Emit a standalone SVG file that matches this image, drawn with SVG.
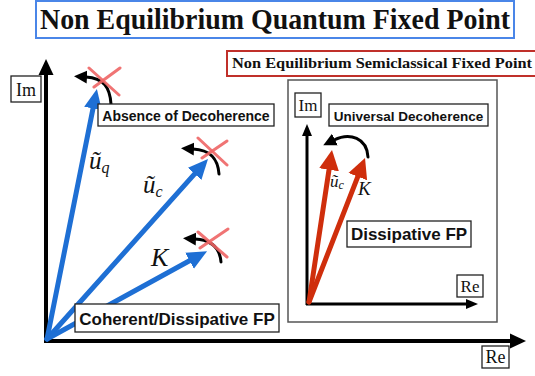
<svg xmlns="http://www.w3.org/2000/svg" width="535" height="376" viewBox="0 0 535 376">
<style>
  .lbl { font-family: "Liberation Sans", Arial, sans-serif; font-weight: bold; fill: #111; text-anchor: middle; }
  .ser { font-family: "Liberation Serif", "Times New Roman", serif; fill: #111; }
  .math { font-family: "Liberation Serif", "Times New Roman", serif; font-style: italic; fill: #111; }
  .box { fill: #fff; stroke: #222; stroke-width: 1.3; }
  .axis { stroke: #000; fill: none; }
  .blue { stroke: #1e6fd4; stroke-width: 5; fill: none; stroke-linecap: round; }
  .red { stroke: #cf2e0c; stroke-width: 5; fill: none; stroke-linecap: round; }
  .curl { stroke: #000; stroke-width: 3; fill: none; stroke-linecap: round; }
  .xmark { stroke: #ef6565; stroke-width: 3; stroke-linecap: round; opacity: 0.9; }
</style>
<defs>
  <marker id="ahBlue" markerUnits="userSpaceOnUse" viewBox="0 -10 20 20" markerWidth="20" markerHeight="20" refX="2" refY="0" orient="auto">
    <path d="M0,-9 L20,0 L0,9 z" fill="#1e6fd4"/>
  </marker>
  <marker id="ahRed" markerUnits="userSpaceOnUse" viewBox="0 -11 20 22" markerWidth="20" markerHeight="22" refX="2" refY="0" orient="auto">
    <path d="M0,-10 L20,0 L0,10 z" fill="#cf2e0c"/>
  </marker>
  <marker id="ahBlk" markerUnits="userSpaceOnUse" viewBox="0 -7 13 14" markerWidth="13" markerHeight="14" refX="1" refY="0" orient="auto">
    <path d="M0,-6.5 L13,0 L0,6.5 z" fill="#000"/>
  </marker>
  <marker id="ahAxis" markerUnits="userSpaceOnUse" viewBox="0 -8 16 16" markerWidth="16" markerHeight="16" refX="1" refY="0" orient="auto">
    <path d="M0,-7.5 L16,0 L0,7.5 z" fill="#000"/>
  </marker>
  <marker id="ahAxisS" markerUnits="userSpaceOnUse" viewBox="0 -6 12 12" markerWidth="12" markerHeight="12" refX="1" refY="0" orient="auto">
    <path d="M0,-5 L12,0 L0,5 z" fill="#000"/>
  </marker>
</defs>

<!-- Titles -->
<g id="title-quantum">
  <rect x="36" y="1" width="478" height="37" fill="#fff" stroke="#4a86e8" stroke-width="2"/>
  <text class="ser" x="275" y="29" font-size="29" font-weight="bold" text-anchor="middle" textLength="470" lengthAdjust="spacingAndGlyphs">Non Equilibrium Quantum Fixed Point</text>
</g>
<g id="title-semiclassical">
  <rect x="227" y="51" width="320" height="25" fill="#fff" stroke="#c0302a" stroke-width="2"/>
  <text class="ser" x="232" y="68" font-size="14.5" font-weight="bold" textLength="300" lengthAdjust="spacingAndGlyphs">Non Equilibrium Semiclassical Fixed Point</text>
</g>

<!-- Right panel frame -->
<g id="panel-semiclassical">
  <rect x="288" y="80" width="209" height="242" fill="#fff" stroke="#555" stroke-width="1.5"/>
</g>

<!-- Connectors -->
<g id="connectors">
  <!-- main axes -->
  <line class="axis" x1="46" y1="343" x2="46" y2="74" stroke-width="4" marker-end="url(#ahAxis)"/>
  <line class="axis" x1="44" y1="341" x2="511" y2="341" stroke-width="4" marker-end="url(#ahAxis)"/>
  <!-- inner axes -->
  <line class="axis" x1="307" y1="305" x2="307" y2="135" stroke-width="3" marker-end="url(#ahAxisS)"/>
  <line class="axis" x1="306" y1="304" x2="467" y2="304" stroke-width="3" marker-end="url(#ahAxisS)"/>

  <!-- blue vectors -->
  <line class="blue" x1="47" y1="339" x2="93.4" y2="106.6" marker-end="url(#ahBlue)"/>
  <line class="blue" x1="47" y1="339" x2="196" y2="172.4" marker-end="url(#ahBlue)"/>
  <line class="blue" x1="47" y1="339" x2="191.3" y2="259.8" marker-end="url(#ahBlue)"/>

  <!-- red vectors -->
  <line class="red" x1="309" y1="302" x2="329.3" y2="167.8" marker-end="url(#ahRed)"/>
  <line class="red" x1="309" y1="302" x2="358.5" y2="174.8" marker-end="url(#ahRed)"/>

  <!-- black rotation arrows -->
  <path class="curl" d="M111,104 C110,88 104,78 86,77" marker-end="url(#ahBlk)"/>
  <path class="curl" d="M219,174 C218,160 212,150 193,149" marker-end="url(#ahBlk)"/>
  <path class="curl" d="M221,262 C220,250 214,240 195,239" marker-end="url(#ahBlk)"/>
  <path class="curl" d="M368,157 C367,138 350,132 334,140" marker-end="url(#ahBlk)"/>

  <!-- red crosses -->
  <line class="xmark" x1="89" y1="68" x2="119" y2="95"/>
  <line class="xmark" x1="120" y1="68" x2="94" y2="87"/>
  <line class="xmark" x1="198" y1="138" x2="227" y2="165"/>
  <line class="xmark" x1="227" y1="141" x2="202" y2="158"/>
  <line class="xmark" x1="198" y1="232" x2="227" y2="257"/>
  <line class="xmark" x1="228" y1="229" x2="200" y2="248"/>
</g>

<!-- Axis labels -->
<g id="label-im-main">
  <rect class="box" x="11" y="76" width="30" height="26"/>
  <text class="ser" x="26" y="96" font-size="18" text-anchor="middle">Im</text>
</g>
<g id="label-re-main">
  <rect class="box" x="482" y="346" width="27" height="22"/>
  <text class="ser" x="495.5" y="363" font-size="18" text-anchor="middle">Re</text>
</g>
<g id="label-im-inner">
  <rect class="box" x="295" y="93" width="26" height="24"/>
  <text class="ser" x="308" y="111" font-size="17" text-anchor="middle">Im</text>
</g>
<g id="label-re-inner">
  <rect class="box" x="457" y="275" width="26" height="22"/>
  <text class="ser" x="470" y="292" font-size="17" text-anchor="middle">Re</text>
</g>

<!-- Text boxes -->
<g id="absence-of-decoherence">
  <rect class="box" x="98" y="104" width="176" height="22"/>
  <text class="lbl" x="186" y="120.5" font-size="14">Absence of Decoherence</text>
</g>
<g id="coherent-dissipative-fp">
  <rect class="box" x="75" y="304" width="204" height="28"/>
  <text class="lbl" x="177" y="324.5" font-size="17">Coherent/Dissipative FP</text>
</g>
<g id="universal-decoherence">
  <rect class="box" x="329" y="104" width="159" height="22"/>
  <text class="lbl" x="408.5" y="120.5" font-size="13.5">Universal Decoherence</text>
</g>
<g id="dissipative-fp">
  <rect class="box" x="347" y="221" width="124" height="26"/>
  <text class="lbl" x="409" y="240" font-size="17">Dissipative FP</text>
</g>

<!-- Math labels -->
<g id="label-uq">
  <text class="math" x="89" y="169" font-size="25">ũ<tspan font-size="16" dy="4">q</tspan></text>
</g>
<g id="label-uc">
  <text class="math" x="143" y="193" font-size="25">ũ<tspan font-size="16" dy="4">c</tspan></text>
</g>
<g id="label-k">
  <text class="math" x="151" y="266" font-size="26">K</text>
</g>
<g id="label-uc-inner">
  <text class="math" x="330" y="187" font-size="17">ũ<tspan font-size="12" dy="2">c</tspan></text>
</g>
<g id="label-k-inner">
  <text class="math" x="358" y="195" font-size="19">K</text>
</g>
</svg>
